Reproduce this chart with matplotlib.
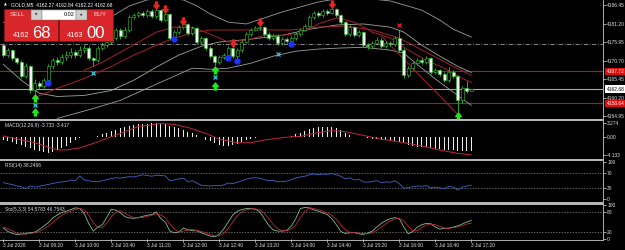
import matplotlib
matplotlib.use("Agg")
import matplotlib.pyplot as plt
from matplotlib.patches import Rectangle
from matplotlib.path import Path

plt.rcParams['font.family'] = ['Liberation Sans', 'DejaVu Sans']

W, H = 625, 250
BAR0_PX, BAR_PX, PLOT_R = 3.3, 4.5, 603   # first bar x, bar step, right edge of plot (pixels)
LIME = '#2cc82c'

# ---- GOLD M5, 3 Jul 2026, bars from 08:40 to 17:20 ----
first_open = 4175.1
closes = [4172.3, 4173.7, 4171.4, 4170.3, 4166.3, 4169.1, 4162.3, 4164.3, 4163.5, 4165.2,
          4169.1, 4170.8, 4170.3, 4171.7, 4172.3, 4173.1, 4172.3, 4173.7, 4174.3, 4171.4,
          4170.8, 4174.3, 4175.1, 4176.0, 4177.1, 4179.4, 4177.7, 4179.4, 4183.0, 4183.6,
          4184.2, 4183.6, 4184.8, 4183.3, 4185.0, 4182.2, 4183.9, 4177.1, 4178.8, 4180.2,
          4181.1, 4178.5, 4179.9, 4176.0, 4177.1, 4174.3, 4172.0, 4170.3, 4171.7, 4172.3,
          4174.3, 4172.0, 4173.7, 4176.0, 4178.2, 4179.4, 4179.9, 4180.2, 4178.2, 4177.1,
          4177.7, 4175.7, 4176.8, 4176.2, 4177.1, 4178.2, 4179.4, 4180.5, 4183.0, 4184.2,
          4183.6, 4184.8, 4184.2, 4185.3, 4183.6, 4181.6, 4178.2, 4180.2, 4177.9, 4178.8,
          4175.1, 4174.8, 4175.7, 4176.5, 4174.8, 4175.7, 4175.4, 4177.1, 4173.7, 4166.6,
          4168.6, 4170.0, 4170.8, 4170.3, 4171.4, 4167.4, 4168.0, 4166.9, 4165.2, 4167.4,
          4166.3, 4159.5, 4162.9, 4162.27, 4162.68]
highs = [4175.6, 4174.3, 4174.0, 4171.9, 4170.8, 4170.0, 4169.6, 4165.5, 4165.0, 4165.9,
         4169.8, 4171.6, 4171.8, 4172.6, 4173.4, 4174.2, 4173.8, 4174.8, 4175.2, 4174.9,
         4171.9, 4174.9, 4175.9, 4176.7, 4177.8, 4180.0, 4180.0, 4180.1, 4183.6, 4184.3,
         4184.8, 4184.9, 4185.3, 4185.2, 4185.7, 4185.4, 4184.6, 4184.3, 4179.3, 4180.8,
         4181.6, 4181.5, 4180.6, 4180.3, 4177.8, 4177.5, 4174.8, 4172.4, 4172.3, 4173.0,
         4175.0, 4174.8, 4174.2, 4176.6, 4178.8, 4180.0, 4180.6, 4180.9, 4180.6, 4178.7,
         4178.3, 4178.2, 4177.3, 4177.4, 4177.7, 4178.9, 4180.0, 4181.2, 4183.6, 4184.8,
         4184.7, 4185.4, 4185.3, 4186.0, 4185.7, 4184.0, 4182.0, 4180.8, 4180.6, 4179.4,
         4179.2, 4175.7, 4176.3, 4177.3, 4177.0, 4176.4, 4176.3, 4177.8, 4179.4, 4174.2,
         4169.2, 4170.6, 4171.5, 4171.4, 4172.1, 4171.9, 4168.7, 4168.5, 4167.4, 4168.8,
         4168.0, 4166.8, 4163.5, 4165.0, 4162.84]
lows = [4171.8, 4171.9, 4170.8, 4169.7, 4165.8, 4165.9, 4161.5, 4160.9, 4162.6, 4162.9,
        4164.6, 4168.5, 4169.5, 4169.8, 4171.0, 4171.6, 4171.5, 4171.8, 4173.0, 4170.9,
        4169.3, 4170.3, 4173.8, 4174.6, 4175.5, 4176.6, 4176.8, 4177.1, 4178.8, 4182.4,
        4183.0, 4183.0, 4183.1, 4182.8, 4182.9, 4181.6, 4181.8, 4176.5, 4176.4, 4178.3,
        4179.8, 4177.9, 4178.0, 4175.5, 4175.4, 4173.8, 4171.4, 4169.1, 4169.9, 4171.2,
        4171.9, 4171.5, 4171.0, 4173.2, 4175.6, 4177.8, 4179.0, 4179.4, 4177.7, 4176.6,
        4176.6, 4175.2, 4175.1, 4175.6, 4175.6, 4176.7, 4177.8, 4179.0, 4180.1, 4182.6,
        4183.0, 4183.2, 4183.7, 4183.8, 4183.1, 4181.1, 4177.7, 4177.8, 4177.4, 4177.4,
        4174.6, 4174.0, 4174.2, 4175.2, 4174.3, 4174.3, 4174.8, 4175.0, 4173.2, 4165.8,
        4166.0, 4168.0, 4169.5, 4169.7, 4169.9, 4166.9, 4166.9, 4166.3, 4164.6, 4164.8,
        4165.8, 4155.8, 4158.9, 4161.6, 4162.22]

# overlay lines on the price chart (bar index, price)
upper_idx = [0, 6, 12, 18, 22, 25, 28, 32, 36, 40, 43, 46, 50, 54, 58, 62, 66, 70, 74, 80, 86, 89, 93, 97, 100, 104]
upper_val = [4181.6, 4179.4, 4178.8, 4179.4, 4181.6, 4183.9, 4186.2, 4187.9, 4188.4, 4187.9, 4186.2, 4183.9, 4181.6,
             4181.1, 4182.8, 4184.5, 4185.9, 4187.3, 4188.2, 4188.4, 4187.6, 4186.5, 4185.0, 4182.2, 4179.6, 4177.4]
mid_idx = [0, 4, 8, 12, 18, 24, 29, 34, 39, 44, 48, 55, 62, 68, 74, 80, 86, 89, 93, 97, 101, 104]
mid_val = [4169.7, 4165.2, 4161.5, 4160.6, 4160.9, 4162.3, 4165.2, 4168.9, 4172.3, 4174.8, 4176.0,
           4176.8, 4177.9, 4179.6, 4180.8, 4181.1, 4180.2, 4178.8, 4175.1, 4172.0, 4169.1, 4167.4]
lower_idx = [12, 20, 26, 30, 36, 42, 46, 50, 55, 60, 65, 70, 75, 80, 86, 89, 93, 97, 101, 104]
lower_val = [4154.4, 4157.2, 4159.5, 4161.8, 4165.2, 4168.6, 4168.3, 4168.6, 4170.0, 4172.0,
             4173.4, 4174.0, 4174.3, 4174.5, 4173.7, 4172.8, 4168.6, 4164.6, 4160.9, 4158.1]
ma_slow_idx = [7, 12, 18, 24, 29, 34, 38, 42, 46, 52, 58, 64, 70, 76, 82, 88, 94, 100, 104]
ma_slow_val = [4160.3, 4162.9, 4165.7, 4169.1, 4172.3, 4175.1, 4177.1, 4178.5, 4179.4, 4179.4,
               4179.4, 4179.4, 4180.2, 4180.5, 4179.4, 4177.1, 4173.1, 4169.1, 4166.6]
ma_fast_idx = [18, 22, 26, 30, 34, 38, 42, 46, 50, 54, 58, 62, 66, 70, 74, 78, 82, 86, 90, 94, 98, 102, 104]
ma_fast_val = [4168.0, 4170.3, 4173.1, 4175.95, 4178.8, 4180.2, 4180.2, 4178.2, 4176.0, 4176.5, 4177.9, 4177.9,
               4178.5, 4181.1, 4182.8, 4181.6, 4178.8, 4177.1, 4173.7, 4170.8, 4168.6, 4165.7, 4164.6]
trend_idx = [84, 101]
trend_val = [4177.7, 4155.5]

# signal markers
sell_arrow_idx = [34, 36, 40, 51, 57, 73]
sell_arrow_val = [4186.45, 4185.3, 4181.9, 4175.7, 4181.6, 4186.7]
buy_arrow_idx = [7, 7, 47, 47, 101]
buy_arrow_val = [4160.1, 4156.1, 4168.0, 4163.5, 4155.0]
blue_dot_idx = [10, 38, 50, 52, 64]
blue_dot_val = [4164.3, 4176.8, 4171.4, 4170.6, 4175.4]
cyan_x_idx = [7, 20, 47, 61]
cyan_x_val = [4158.1, 4167.1, 4166.0, 4172.5]
red_x_idx = [88]
red_x_val = [4180.8]

# horizontal levels
level_red = [4167.72, 4158.64]
level_red_txt = ['4167.72', '4158.64']
bid = 4162.68
dashdot_level = 4175.53
price_ticks = [4186.45, 4181.20, 4175.95, 4170.70, 4165.45, 4160.20, 4154.95]

# MACD(12,26,9)
macd_hist = [-0.55, -0.9, -1.2, -1.55, -1.85, -2.2, -2.65, -3.0, -3.3, -3.5,
             -3.6, -3.4, -3.1, -2.65, -2.1, -1.45, -0.75, -0.2, 0.05, 0.05,
             0.05, 0.35, 0.75, 1.1, 1.45, 1.75, 2.1, 2.4, 2.75, 2.95,
             3.05, 3.15, 3.2, 3.27, 3.27, 3.2, 3.05, 2.75, 2.4, 2.1,
             1.75, 1.3, 0.9, 0.45, 0.05, -0.55, -1.0, -1.45, -1.75, -2.0,
             -2.0, -1.75, -1.55, -1.2, -0.75, -0.35, -0.1, 0.05, 0.05, 0.05,
             0.05, 0.1, 0.1, 0.1, 0.35, 0.65, 1.1, 1.45, 1.85, 2.1,
             2.3, 2.3, 2.4, 2.3, 2.1, 1.65, 1.0, 0.55, 0.15, 0.05,
             -0.05, -0.1, -0.35, -0.45, -0.55, -0.65, -0.75, -0.9, -1.1, -1.45,
             -1.75, -2.0, -2.2, -2.3, -2.4, -2.65, -2.75, -2.85, -3.0, -3.1,
             -3.1, -3.2, -3.3, -3.3, -3.35]
signal_idx = [0, 7, 12, 14, 17, 21, 26, 30, 35, 38, 41, 45, 48, 52, 55, 58, 63, 66, 68, 69, 73, 76, 79, 84, 88, 93, 97, 101, 104]
signal_val = [0.3, -1.3, -3.0, -3.0, -2.5, -1.1, 0.9, 2.5, 3.2, 3.0, 2.3, 0.9, -0.45, -1.3, -1.3, -0.65, 0.0,
              0.2, 0.65, 0.9, 1.55, 1.3, 0.65, -0.45, -1.1, -2.05, -3.0, -3.8, -4.13]

# RSI(14)
rsi = [45, 42, 40, 36, 34, 29, 36, 33, 35, 38,
       40, 43, 45, 47, 48, 52, 50, 63, 52, 50,
       48, 47, 50, 53, 56, 58, 57, 59, 61, 60,
       63, 66, 64, 62, 65, 64, 63, 50, 52, 55,
       57, 48, 50, 44, 38, 37, 36, 37, 37, 39,
       44, 42, 46, 50, 54, 57, 58, 57, 53, 50,
       51, 47, 48, 49, 53, 58, 60, 62, 66, 68,
       66, 68, 67, 69, 66, 62, 55, 58, 52, 54,
       47, 46, 48, 50, 45, 47, 46, 50, 42, 30,
       32, 34, 36, 35, 37, 31, 33, 31, 29, 35,
       33, 25, 33, 36, 38.2466]

# Stochastic(5,3,3)
stoch_k = [32, 22, 16, 13, 14, 16, 18, 20, 28, 38,
           48, 62, 71, 78, 82, 87, 92, 90, 75, 45,
           23, 35, 42, 64, 88, 85, 78, 66, 62, 61,
           63, 67, 70, 72, 80, 60, 50, 23, 18, 20,
           32, 27, 24, 24, 18, 13, 8, 6, 14, 30,
           50, 71, 82, 87, 90, 90, 88, 80, 60, 40,
           26, 23, 23, 25, 38, 60, 90, 93, 92, 86,
           82, 77, 72, 60, 42, 22, 16, 18, 19, 15,
           13, 17, 23, 35, 46, 54, 60, 63, 60, 35,
           15, 22, 35, 42, 46, 45, 35, 29, 31, 32,
           35, 39, 44, 50, 54.5783]
stoch_d = [35, 30, 24, 17, 14, 14, 16, 18, 22, 29,
           38, 49, 60, 70, 77, 82, 87, 90, 86, 70,
           48, 34, 33, 47, 65, 79, 84, 76, 69, 63,
           62, 64, 67, 70, 74, 71, 63, 44, 30, 20,
           23, 26, 28, 25, 22, 18, 13, 9, 9, 17,
           31, 50, 68, 80, 86, 89, 89, 86, 76, 60,
           42, 30, 24, 24, 29, 41, 63, 81, 92, 90,
           87, 82, 77, 70, 58, 41, 27, 19, 18, 17,
           16, 15, 18, 25, 35, 45, 53, 59, 61, 53,
           37, 24, 24, 33, 41, 44, 42, 37, 32, 31,
           33, 35, 39, 44, 46.7543]

tick_idx = [0, 8, 16, 24, 32, 40, 48, 56, 64, 72, 80, 88, 96, 104]
tick_labels = ['3 Jul 2026', '3 Jul 09:20', '3 Jul 10:00', '3 Jul 10:40', '3 Jul 11:20', '3 Jul 12:00',
               '3 Jul 12:40', '3 Jul 13:20', '3 Jul 14:00', '3 Jul 14:40', '3 Jul 15:20', '3 Jul 16:00',
               '3 Jul 16:40', '3 Jul 17:20']

fig = plt.figure(figsize=(W / 100, H / 100), dpi=100, facecolor='black')


def panel(top, bottom):
    # one indicator window, placed in pixel rows top..bottom
    ax = fig.add_axes([0, 1 - bottom / H, PLOT_R / W, (bottom - top) / H])
    ax.set_facecolor('black')
    ax.set_xlim(-BAR0_PX / BAR_PX, (PLOT_R - BAR0_PX) / BAR_PX)
    for s in ax.spines.values():
        s.set_visible(False)
    ax.yaxis.tick_right()
    ax.tick_params(axis='y', colors='#e0e0e0', labelsize=3.5, length=2, width=0.5, pad=1)
    ax.tick_params(axis='x', bottom=False, labelbottom=False)
    return ax


# ---- price window ----
ax = panel(0, 118.5)
ax.set_ylim(4154.38, 4187.87)
ax.set_yticks(price_ticks)
ax.set_yticklabels([f'{p:.2f}' for p in price_ticks])

ax.axhline(dashdot_level, color='#a0a0a0', lw=0.6, ls=(0, (5, 2, 1, 2)))
for lv in level_red:
    ax.axhline(lv, color='#a31c30', lw=0.8)
ax.axhline(bid, color='#a8a8a8', lw=0.8)

ax.plot(upper_idx, upper_val, color='#9c9c9c', lw=0.6)
ax.plot(mid_idx, mid_val, color='#9aa89a', lw=0.6)
ax.plot(lower_idx, lower_val, color='#9c9c9c', lw=0.6)
ax.plot(ma_slow_idx, ma_slow_val, color='#a81e2e', lw=0.7)
ax.plot(ma_fast_idx, ma_fast_val, color='#a81e2e', lw=0.7)
ax.plot(trend_idx, trend_val, color='#a81e2e', lw=0.7)

idx = list(range(len(closes)))
opens = [first_open] + closes[:-1]
ax.vlines(idx, lows, highs, color=LIME, lw=0.6, zorder=3)
for i, (o, c) in enumerate(zip(opens, closes)):
    bull = c >= o
    ax.add_patch(Rectangle((i - 0.32, min(o, c)), 0.64, max(abs(c - o), 0.12),
                           facecolor='black' if bull else '#f2f2f2', edgecolor=LIME, lw=0.4, zorder=4))

arrow_verts = [(-0.3, 1), (0.3, 1), (0.3, 0), (0.8, 0), (0, -1), (-0.8, 0), (-0.3, 0), (-0.3, 1)]
arrow_dn = Path(arrow_verts, closed=True)
arrow_up = Path([(x, -y) for x, y in arrow_verts], closed=True)
ax.plot(sell_arrow_idx, sell_arrow_val, ls='none', marker=arrow_dn, ms=5, color='#e8241e', zorder=6)
ax.plot(buy_arrow_idx, buy_arrow_val, ls='none', marker=arrow_up, ms=5, color='#22e622', zorder=6)
ax.plot(blue_dot_idx, blue_dot_val, ls='none', marker='o', ms=3.6, color='#1e32ff', zorder=6)
ax.plot(cyan_x_idx, cyan_x_val, ls='none', marker='x', ms=2.4, mew=0.9, color='#3cc8d8', zorder=6)
ax.plot(red_x_idx, red_x_val, ls='none', marker='x', ms=2.4, mew=0.9, color='#d82828', zorder=6)

ytr = ax.get_yaxis_transform()
for lv, txt in zip(level_red, level_red_txt):
    ax.text(1.006, lv, txt, transform=ytr, fontsize=3.5, color='white', va='center', ha='left',
            bbox=dict(boxstyle='square,pad=0.25', fc='#e00c0c', ec='none'))
ax.text(1.006, bid, f'{bid:.2f}', transform=ytr, fontsize=3.5, color='black', va='center', ha='left',
        bbox=dict(boxstyle='square,pad=0.25', fc='white', ec='none'))

# ---- MACD window ----
am = panel(121, 158.5)
am.set_ylim(-5.0, 3.81)
am.bar(idx, macd_hist, width=0.3, color='#ececec', lw=0)
am.plot(signal_idx, signal_val, color='#c0283a', lw=0.7)
am.set_yticks([3.274, 0, -4.133])
am.set_yticklabels(['3.274', '0.00', '-4.133'])

# ---- RSI window ----
ar = panel(161, 202)
ar.set_ylim(-6.7, 102.7)
for lv in (70, 30):
    ar.axhline(lv, color='#8c8c8c', lw=0.5, ls=(0, (2, 2)))
ar.plot(idx, rsi, color='#4166c8', lw=0.6)
ar.set_yticks([100, 70, 30, 0])

# ---- Stochastic window ----
ast = panel(205, 239)
ast.set_ylim(-0.5, 100.5)
for lv in (80, 20):
    ast.axhline(lv, color='#8c8c8c', lw=0.5, ls=(0, (2, 2)))
ast.plot(idx, stoch_k, color='#7fbf8f', lw=0.6)
ast.plot(idx, stoch_d, color='#c0283a', lw=0.6)
ast.set_yticks([100, 80, 20, 0])
ast.tick_params(axis='x', bottom=True, labelbottom=True, colors='#e0e0e0', labelsize=3.5,
                length=2, width=0.5, pad=1)
ast.set_xticks(tick_idx)
ast.set_xticklabels(tick_labels, ha='left')

# ---- frame, separators and texts in pixel coordinates ----
ov = fig.add_axes([0, 0, 1, 1], zorder=10)
ov.set_xlim(0, W)
ov.set_ylim(H, 0)
ov.axis('off')
for y0 in (118.5, 158.6, 202.4):
    ov.add_patch(Rectangle((0, y0), PLOT_R, 2.2, fc='#b4b4b4', ec='none'))
ov.plot([PLOT_R, PLOT_R], [0, 239.5], color='#c8c8c8', lw=0.6)
ov.plot([0, PLOT_R], [239.5, 239.5], color='#c8c8c8', lw=0.6)

ov.text(4, 4.5, '\u25b2', fontsize=2.6, color='white', va='center', family='DejaVu Sans')
ov.text(11, 4.5, 'GOLD,M5  4162.27 4162.84 4162.22 4162.68', fontsize=3.6, color='white', va='center')
ov.text(5, 125, 'MACD(12,26,9) -3.733 -3.417', fontsize=3.5, color='#e0e0e0', va='center')
ov.text(5, 165, 'RSI(14) 38.2466', fontsize=3.5, color='#e0e0e0', va='center')
ov.text(5, 209.5, 'Sto(5,3,3) 54.5783 46.7543', fontsize=3.5, color='#e0e0e0', va='center')

# one click trading panel
ov.add_patch(Rectangle((4, 9), 54, 32, fc='#d8262a', ec='#8c1414', lw=0.5))
ov.add_patch(Rectangle((59, 9), 54, 32, fc='#d8262a', ec='#8c1414', lw=0.5))
ov.add_patch(Rectangle((31, 9.5), 11, 10, fc='#cfcfcf', ec='#707070', lw=0.3))
ov.add_patch(Rectangle((42, 9.5), 34, 10, fc='white', ec='#707070', lw=0.3))
ov.add_patch(Rectangle((76, 9.5), 11, 10, fc='#cfcfcf', ec='#707070', lw=0.3))
ov.text(36.5, 14.5, '\u25bc', fontsize=2.2, color='#202020', ha='center', va='center', family='DejaVu Sans')
ov.text(81.5, 14.5, '\u25b2', fontsize=2.2, color='#202020', ha='center', va='center', family='DejaVu Sans')
ov.text(74, 14.5, '0.02', fontsize=4, color='black', ha='right', va='center')
ov.text(10, 15, 'SELL', fontsize=4.6, color='#ffd6d6', va='center')
ov.text(93, 15, 'BUY', fontsize=4.6, color='#ffd6d6', va='center')
ov.text(13, 37, '4162', fontsize=5.2, color='white', va='baseline')
ov.text(32, 37.5, '68', fontsize=12, color='white', va='baseline')
ov.text(67, 37, '4163', fontsize=5.2, color='white', va='baseline')
ov.text(86, 37.5, '00', fontsize=12, color='white', va='baseline')

fig.savefig('out.png', dpi=100, facecolor='black')
